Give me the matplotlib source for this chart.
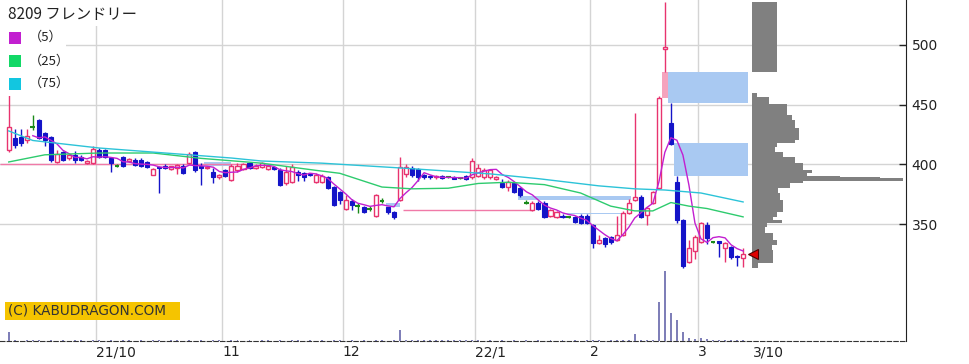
import numpy as np
import pandas as pd
import matplotlib
matplotlib.use("Agg")
import matplotlib.pyplot as plt
from matplotlib.patches import Rectangle

# ---------------- data ----------------
title = "8209 フレンドリー"
opens = [412, 422, 423, 420, 431, 437, 426, 423, 402, 410, 405, 408, 406, 401, 401,
         412, 412, 405, 399, 406, 403, 404, 404, 402, 391, 398, 399, 396, 397, 399,
         401, 410, 399, 397, 394, 389, 395, 387, 395, 396, 401, 397, 398, 396, 398,
         395, 384, 385, 394, 393, 392, 385, 385, 389, 381, 377, 363, 369, 365, 364,
         363, 357, 369, 364, 360, 370, 392, 397, 396, 391, 390, 389, 390, 389, 389.5,
         388.5, 390, 389, 390, 389, 389, 388, 384, 381, 384, 380, 368, 362, 368, 368,
         357, 356, 357, 356, 356, 357, 357, 349, 334, 338, 339, 337, 341, 359, 370,
         373, 357.5, 368, 380, 497, 435, 385, 353, 318, 327, 335, 349, 335, 335.5, 330,
         331, 323, 321.5]
highs = [460, 430, 430, 430, 441, 438, 427, 424, 412, 411, 409, 411, 408, 404, 415,
         414, 413, 406, 400, 407, 405, 405, 405, 403, 397, 399, 400, 399, 400, 400,
         410, 411, 401, 399, 397, 392, 396, 400, 401, 401, 402, 400, 402, 400, 399,
         397, 399, 400, 395, 394, 393, 393, 392, 390, 382, 378, 374, 371, 368, 365,
         365, 375, 372, 364, 361, 406, 400, 399, 397, 392, 391, 391, 391, 389.5, 390,
         389, 391, 405, 400, 397, 396, 390, 388, 387, 385, 381, 370, 369, 369, 369,
         363, 361, 358, 357, 357, 358, 358, 350, 341, 339, 340, 357, 361, 371, 443,
         374, 364.5, 378, 457, 536, 451, 390, 354, 337, 341, 352, 352, 336, 336, 335,
         332, 324, 330]
lows = [410, 414, 415, 418, 429, 421, 415, 402, 401, 403, 404, 401, 403, 400, 400,
        405, 405, 394, 398, 398, 402, 399, 398, 397, 391, 376, 396, 395, 392, 392,
        400, 394, 383, 396, 384, 388, 389, 386, 394, 395, 396, 396, 397, 395, 395,
        382, 383, 384, 386, 386, 390, 384, 384, 379, 365, 367, 362, 362, 359, 359,
        361, 356, 368, 358, 354, 369, 389, 389, 386, 388, 388, 388, 388, 388.5, 387.5,
        388, 387, 388, 389, 388, 388, 387, 380, 378, 376, 373, 367, 361, 362, 355,
        356, 355, 355, 355, 351, 350, 350, 330, 333, 331, 333, 336, 340, 358, 369,
        355, 349, 367, 379, 477, 416, 351, 313, 317, 321, 334, 333, 334, 322, 318,
        321, 315, 314]
closes = [431, 416, 418, 424, 431, 422, 420, 404, 409, 404, 408, 404, 404, 403, 413,
          406, 406, 401, 399, 399, 404.5, 399.5, 399, 398, 396, 397, 397, 398.5, 399.5, 393,
          409, 395, 397, 398, 389, 391, 390, 399, 399, 400, 397, 399, 401, 399, 396,
          383, 394, 398, 391, 389, 391, 391, 390, 380, 366, 370, 370, 366, 365, 360,
          363, 374, 369, 360, 356, 398, 398, 391, 389, 389, 389, 390, 388.5, 389, 388,
          388.5, 388, 403, 397, 395, 395, 389, 381, 385, 377, 374, 368, 368, 363, 356,
          362, 360, 356, 356, 352, 351, 351, 334, 337, 333, 335, 341, 359, 368, 372.5,
          356, 363.5, 377, 456, 498, 417, 353, 315, 330, 339, 351, 338, 335, 334, 334,
          322, 322, 325]
volumes = [90, 6, 5, 8, 15, 6, 5, 8, 5, 6, 5, 15, 6, 5, 8,
           6, 5, 6, 5, 8, 6, 5, 6, 5, 15, 6, 5, 6, 8, 5,
           6, 5, 6, 5, 8, 6, 5, 12, 6, 5, 6, 5, 8, 6, 5,
           6, 5, 12, 6, 5, 6, 5, 6, 5, 8, 6, 5, 6, 5, 6,
           5, 8, 6, 5, 6, 110, 12, 8, 12, 10, 12, 8, 12, 6, 12,
           8, 6, 8, 6, 5, 6, 5, 6, 5, 6, 5, 6, 5, 6, 5,
           6, 5, 6, 5, 6, 5, 6, 8, 6, 5, 6, 8, 10, 12, 70,
           8, 6, 12, 390, 700, 280, 210, 90, 30, 20, 30, 20, 10, 8, 15,
           8, 6, 15]

month_labels = ["21/10", "11", "12", "22/1", "2", "3"]
month_start = [15, 36, 56, 78, 97, 115]
last_label = "3/10"

ma25_idx = [0, 6, 15, 24, 32, 42, 51, 55, 62, 67, 73, 78, 83, 89, 95, 100, 104, 107, 110, 113, 116, 122]
ma25_val = [402, 408, 409.5, 409.5, 405, 401, 395, 392.5, 381, 379.5, 380, 384, 385, 383, 376,
            365, 361, 361, 368, 365, 363, 356]
ma75_idx = [0, 4, 15, 26, 37, 42, 52, 65, 80, 88, 98, 104, 109, 115, 122]
ma75_val = [428, 420, 413.7, 409.5, 405.3, 402.8, 401, 397, 392, 388, 382, 379.5, 378.5, 376, 368.5]

# open price gaps (window zones)
gap_x0 = [32.5, 62.6, 84.6, 92.0, 109.5, 110.6]
gap_x1 = [37.0, 65.0, 103.3, 102.5, 122.8, 122.8]
gap_lo = [399, 364, 370.5, 358.6, 451, 390]
gap_hi = [402, 368, 373.3, 359.6, 477, 418]
upgap_idx = [109]
upgap_lo = [456]
upgap_hi = [477]
pinkline_x0 = [-1.45, 65.5]
pinkline_x1 = [39.0, 86.7]
pinkline_y = [400, 361.7]

# volume-by-price profile
prof_lo = [312.9, 317.1, 328.2, 332.4, 336.6, 342.2, 347.7, 351.1, 353.4, 356.1, 360.3,
           370.1, 375.7, 379.9, 384.1, 386.3, 388.3, 389.1, 390.2, 392.7, 395.3, 401.1,
           406.1, 410.3, 414.5, 417.9, 420.4, 430.4, 437.2, 441.3, 450.6, 456.4, 477.6]
prof_hi = [317.1, 328.2, 332.4, 336.6, 342.2, 347.7, 351.1, 353.4, 356.1, 360.3, 370.1,
           375.7, 379.9, 384.1, 386.3, 388.3, 389.1, 390.2, 392.7, 395.3, 401.1, 406.1,
           410.3, 414.5, 417.9, 420.4, 430.4, 437.2, 441.3, 450.6, 456.4, 459.8, 536.3]
prof_vol = [6, 21, 20, 25, 21, 13, 15, 30, 21, 25, 31, 28, 26, 38, 51, 151, 128, 88, 55,
            60, 51, 43, 31, 23, 25, 43, 47, 43, 40, 35, 17, 5, 25]

# ---------------- style ----------------
PINK = "#e8336f"
BLUE = "#1414c8"
DGREEN = "#1a8a1a"
C_MA5 = "#c21fd0"
C_MA25 = "#2ecb6e"
C_MA75 = "#2cc3d8"
GAPC = "#a9c9f2"
GRID = "#d4d4d4"

W, H = 970, 364
fig = plt.figure(figsize=(W / 100, H / 100), dpi=100)
fig.patch.set_facecolor("white")
rect = [0, 23 / H, 906 / W, 341 / H]
ax = fig.add_axes(rect)
vax = fig.add_axes(rect, sharex=ax)
vax.patch.set_visible(False)
pax = fig.add_axes([752 / W, 23 / H, 154 / W, 341 / H])
pax.patch.set_visible(False)

n = len(closes)
x = np.arange(n)
O = np.array(opens, float); Hh = np.array(highs, float)
L = np.array(lows, float); C = np.array(closes, float)

ax.set_xlim(-1.45, 149.06)
ax.set_ylim(252, 537.7)

# grid
for yv in [350, 400, 450, 500]:
    ax.axhline(yv, color=GRID, lw=1, zorder=1)
for ms in month_start:
    ax.axvline(ms - 0.5, color=GRID, lw=1, zorder=1)

# gaps and lines
for a, b, lo, hi in zip(gap_x0, gap_x1, gap_lo, gap_hi):
    ax.add_patch(Rectangle((a, lo), b - a, hi - lo, facecolor=GAPC, edgecolor="none", zorder=2))
for i, lo, hi in zip(upgap_idx, upgap_lo, upgap_hi):
    ax.add_patch(Rectangle((i - 0.45, lo), 0.9, hi - lo, facecolor="#f5a3bd", edgecolor="none", zorder=2))
ax.hlines(pinkline_y, pinkline_x0, pinkline_x1, colors="#f07aa8", lw=1, zorder=2)

# candles
up = C > O
dn = C < O
dj = C == O
wick_colors = np.where(up, PINK, np.where(dn, BLUE, DGREEN))
ax.vlines(x, L, Hh, colors=list(wick_colors), lw=1, zorder=3)
ax.bar(x[up], (C - O)[up], bottom=O[up], width=0.68, facecolor="white",
       edgecolor=PINK, lw=1, zorder=4)
ax.bar(x[dn], (O - C)[dn], bottom=C[dn], width=0.68, facecolor=BLUE,
       edgecolor=BLUE, lw=0.8, zorder=4)
ax.hlines(C[dj], x[dj] - 0.4, x[dj] + 0.4, colors=DGREEN, lw=1.5, zorder=4)

# moving averages
ma5 = pd.Series(C).rolling(5).mean()
ax.plot(x, ma5, color=C_MA5, lw=1, zorder=5)
ax.plot(ma25_idx, ma25_val, color=C_MA25, lw=1, zorder=5)
ax.plot(ma75_idx, ma75_val, color=C_MA75, lw=1, zorder=5)

# axes styling
for s in ["top", "left"]:
    ax.spines[s].set_visible(False)
ax.spines["right"].set_color("#222222")
ax.spines["bottom"].set_color("#333333")
ax.spines["bottom"].set_linestyle((0, (4, 2)))
ax.yaxis.tick_right()
ax.set_yticks([350, 400, 450, 500])
ax.tick_params(axis="y", direction="in", length=5, width=1, pad=4, labelsize=10,
               colors="#222222")
tick_pos = [m - 0.5 for m in month_start] + [n - 1 + 1.6]
ax.set_xticks(tick_pos)
ax.set_xticklabels(month_labels + [last_label])
ax.tick_params(axis="x", length=0, pad=3, labelsize=10, colors="#222222")
for lbl in ax.get_xticklabels():
    lbl.set_horizontalalignment("left")

# volume
vax.bar(x, volumes, width=0.32, color="#7f7fb8", zorder=2)
vax.set_ylim(0, 3410)
vax.axis("off")

# volume profile
pax.barh(prof_lo, prof_vol, height=np.array(prof_hi) - np.array(prof_lo), left=0,
         align="edge", color="#808080", edgecolor="none")
pax.set_ylim(252, 537.7)
pax.set_xlim(0, 154)
pax.axis("off")
pax.plot([0.8], [C[-1]], marker="<", ms=7, color="#e00000", mec="#500000", mew=0.8,
         clip_on=False, zorder=6)

# title / legend
def px_rect(x0, y0, w, h, color):
    fig.add_artist(Rectangle((x0 / W, 1 - (y0 + h) / H), w / W, h / H,
                             transform=fig.transFigure, facecolor=color,
                             edgecolor="none", zorder=10))

px_rect(0, 0, 158, 26, "white")
px_rect(0, 26, 66, 70, "white")
fam = ["Noto Sans CJK JP", "DejaVu Sans"]
fig.text(8 / W, 1 - 14 / H, title, fontsize=11, family=fam, va="center",
         ha="left", color="#222222", zorder=11)
for yc, col, lab in zip([37.5, 61, 83.5], [C_MA5, "#12d866", "#12c6e0"],
                        ["（5）", "（25）", "（75）"]):
    px_rect(9, yc - 6, 12, 12, col)
    fig.text(29 / W, 1 - yc / H, lab, fontsize=9.5, family=fam, va="center",
             ha="left", color="#222222", zorder=11)

# copyright badge
px_rect(5, 302, 175, 18, "#f5c400")
fig.text(8 / W, 1 - 311 / H, "(C) KABUDRAGON.COM", fontsize=9.8, family="DejaVu Sans",
         va="center", ha="left", color="#333333", zorder=11)

fig.savefig("out.png", dpi=100, facecolor="white")
